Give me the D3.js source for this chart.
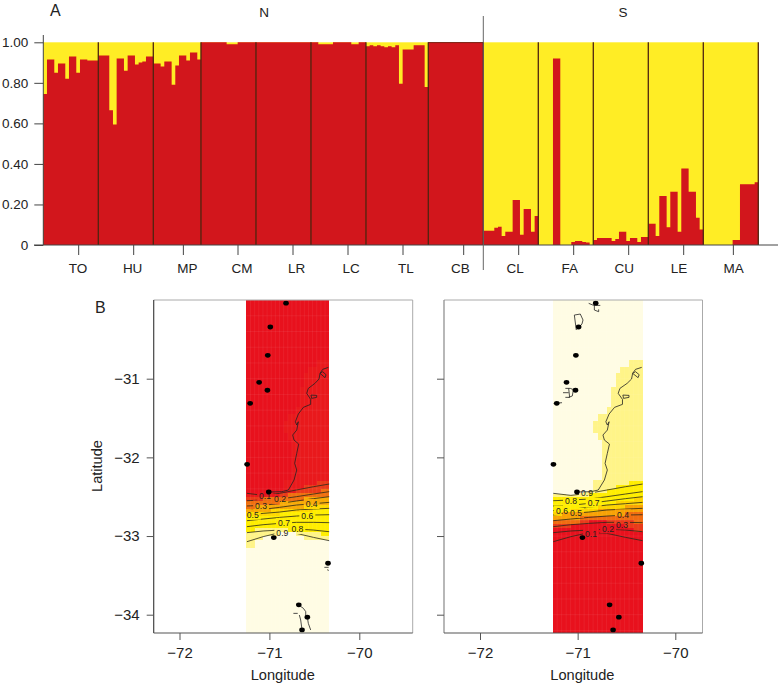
<!DOCTYPE html>
<html><head><meta charset="utf-8">
<script src="https://cdnjs.cloudflare.com/ajax/libs/d3/7.8.5/d3.min.js"></script>
<style>
html,body{margin:0;padding:0;background:#fff}
svg{display:block}
text{font-family:"Liberation Sans",Arial,sans-serif;fill:#222}
</style></head><body><svg id="c" width="778" height="683"></svg>
<script>
// ---- Panel A: red-cluster membership per individual, by population ----
const groups=["TO","HU","MP","CM","LR","LC","TL","CB","CL","FA","CU","LE","MA"];
const TO=[.745,.915,.915,.85,.895,.895,.82,.93,.93,.85,.915,.915,.91,.91,.91];
const HU=[.935,.935,.935,.665,.595,.92,.92,.86,.935,.935,.89,.90,.905,.93,.93];
const MP=[.895,.895,.88,.905,.905,.79,.885,.935,.935,.91,.95,.95,.915];
const CM=[1,1,1,1,1,1,1,.99,.99,.99,1,1,1,1,1];
const LR=[1,1,1,1,1,1,1,1,1,1,1,1,1,1,1];
const LC=[1,1,.99,.99,.99,.99,1,1,1,1,1,.99,.99,1,1];
const TL=[.98,.985,.98,.985,.98,.975,.98,.975,.985,.795,.965,.965,.965,.985,.985,.985,.78];
const CB=[1,1,1,1,1,1,1,1,1,1,1,1,1,1,1];
const CL=[.07,.07,.07,.085,.09,.045,.065,.065,.222,.222,.05,.178,.178,.065,.143];
const FA=[0,0,0,0,.92,.92,0,0,0,.015,.02,.02,.015,.012,0];
const CU=[.025,.035,.035,.035,.035,.02,.03,.065,.065,.02,.035,.035,.015,.04,.04];
const LE=[.105,.105,.045,.242,.242,.087,.263,.263,.065,.378,.378,.263,.263,.135,.077];
const MA=[0,0,0,0,0,0,0,0,.025,.025,.3,.3,.3,.3,.31];
const memberships=[TO,HU,MP,CM,LR,LC,TL,CB,CL,FA,CU,LE,MA];
const yTicks=[0,.2,.4,.6,.8,1];
const tickOffsets=[9.65,9.65,8.2,10.1,10.1,10.1,10.1,9.65,9.65,9.65,9.65,9.65,8.2];
const regions=[["N",264],["S",623]];

// ---- Panel B: sampling sites, map lines, contours, raster bands ----
const sitesLon=[-70.815,-70.99,-71.018,-71.114,-71.022,-71.214,-71.248,-71.007,-70.951,-70.348,-70.673,-70.578,-70.637];
const sitesLat=[-30.04,-30.343,-30.703,-31.046,-31.147,-31.313,-32.088,-32.44,-33.02,-33.346,-33.875,-34.032,-34.193];
const coast=[[-70.344,-30.856],[-70.407,-30.881],[-70.437,-30.932],[-70.448,-31.004],[-70.493,-31.059],[-70.567,-31.123],[-70.585,-31.186],[-70.541,-31.263],[-70.541,-31.326],[-70.622,-31.364],[-70.678,-31.449],[-70.711,-31.547],[-70.696,-31.589],[-70.678,-31.547],[-70.696,-31.653],[-70.741,-31.716],[-70.726,-31.78],[-70.674,-31.831],[-70.696,-31.949],[-70.719,-32.076],[-70.696,-32.161],[-70.726,-32.288],[-70.789,-32.415],[-70.862,-32.436],[-70.992,-32.44]];
const loopA=[[-70.437,-30.932],[-70.381,-30.987],[-70.37,-30.949],[-70.407,-30.911],[-70.437,-30.932]];
const loopB=[[-70.537,-31.208],[-70.474,-31.212],[-70.474,-31.237],[-70.53,-31.25],[-70.537,-31.208]];
const leftFragments=[
 [[-70.389,-33.398],[-70.341,-33.398]],
 [[-70.352,-33.423],[-70.344,-33.444]],
 [[-70.674,-33.877],[-70.622,-33.919],[-70.596,-33.961],[-70.596,-34.004],[-70.578,-34.033],[-70.567,-34.11],[-70.541,-34.194]],
 [[-70.733,-33.983],[-70.685,-33.983]],
 [[-70.667,-34.004],[-70.652,-34.067],[-70.637,-34.193]]];
const rightFragments=[
 [[-70.887,-30.042],[-70.836,-30.068],[-70.768,-30.068]],
 [[-70.829,-30.068],[-70.829,-30.127],[-70.785,-30.148],[-70.785,-30.119]],
 [[-71.014,-30.381],[-71.034,-30.191],[-70.973,-30.178],[-70.945,-30.254],[-70.956,-30.305],[-71.007,-30.373]],
 [[-71.126,-31.123],[-71.075,-31.123],[-71.034,-31.144]],
 [[-71.15,-31.178],[-71.092,-31.178]],
 [[-71.092,-31.123],[-71.082,-31.237],[-71.126,-31.237]],
 [[-71.044,-31.144],[-71.055,-31.22],[-71.092,-31.237]],
 [[-71.246,-31.314],[-71.16,-31.305]]];

const contourLons=[-71.25,-71.07,-70.885,-70.70,-70.51,-70.335];
const contourLevels=[.1,.2,.3,.4,.5,.6,.7,.8,.9];
const c1=[-32.457,-32.483,-32.457,-32.415,-32.373,-32.339];
const c2=[-32.551,-32.542,-32.530,-32.500,-32.466,-32.436];
const c3=[-32.618,-32.610,-32.585,-32.555,-32.525,-32.500];
const c4=[-32.678,-32.661,-32.635,-32.606,-32.589,-32.572];
const c5=[-32.733,-32.712,-32.695,-32.669,-32.657,-32.648];
const c6=[-32.805,-32.784,-32.763,-32.746,-32.733,-32.729];
const c7=[-32.881,-32.856,-32.839,-32.826,-32.826,-32.830];
const c8=[-32.957,-32.936,-32.924,-32.911,-32.924,-32.945];
const c9=[-33.072,-33.008,-32.957,-32.966,-33.017,-33.059];
const contourLats=[c1,c2,c3,c4,c5,c6,c7,c8,c9];
const leftLabels=[["0.1",-71.048,-32.487],["0.2",-70.881,-32.53],["0.3",-71.093,-32.61],["0.4",-70.53,-32.593],["0.5",-71.185,-32.729],["0.6",-70.578,-32.737],["0.7",-70.837,-32.833],["0.8",-70.689,-32.911],["0.9",-70.856,-32.96]];
const rightLabels=[["0.9",-70.904,-32.445],["0.8",-71.068,-32.555],["0.7",-70.836,-32.576],["0.6",-71.16,-32.674],["0.5",-71.017,-32.707],["0.4",-70.536,-32.725],["0.3",-70.546,-32.851],["0.2",-70.689,-32.902],["0.1",-70.863,-32.966]];

// raster class boundaries (latitude per raster column), north to south
const b1=[-32.466,-32.466,-32.466,-32.475,-32.475,-32.466,-32.449,-32.436,-32.415,-32.288,-32.288,-31.449,-31.356,-31.102,-30.932,-30.856,-30.856,-30.763,-30.763,-30.763];
const b2=[-32.521,-32.521,-32.521,-32.508,-32.5,-32.5,-32.491,-32.483,-32.474,-32.457,-32.449,-32.432,-32.415,-32.407,-32.373,-32.373,-32.364,-32.296,-32.288,-32.288];
const pockets=[[9,-31.534,-31.695],[10,-31.449,-31.78]];
const L3=[-32.54,-32.536,-32.519,-32.5,-32.485,-32.468,-32.451,-32.443,-32.43,-32.417];
const L4=[-32.629,-32.621,-32.604,-32.587,-32.57,-32.553,-32.536,-32.523,-32.51,-32.502];
const L5=[-32.714,-32.706,-32.689,-32.672,-32.659,-32.65,-32.629,-32.612,-32.595,-32.587];
const L6=[-32.765,-32.756,-32.744,-32.731,-32.722,-32.714,-32.697,-32.68,-32.663,-32.65];
const L7=[-32.934,-32.918,-32.909,-32.909,-32.918,-32.926,-32.926,-32.934,-32.951,-32.977];
const L8=[-33.138,-33.074,-33.011,-32.977,-32.968,-32.968,-32.99,-33.045,-33.053,-33.053];
const R3=[-32.693,-32.68,-32.663,-32.646,-32.629,-32.608,-32.587,-32.566,-32.544,-32.523];
const R4=[-32.735,-32.722,-32.714,-32.701,-32.684,-32.672,-32.65,-32.629,-32.608,-32.587];
const R5=[-32.82,-32.807,-32.79,-32.773,-32.756,-32.748,-32.739,-32.731,-32.722,-32.714];
const R6=[-32.875,-32.858,-32.841,-32.82,-32.799,-32.79,-32.799,-32.807,-32.82,-32.833];
const R7=[-32.918,-32.905,-32.875,-32.841,-32.824,-32.82,-32.841,-32.875,-32.909,-32.947];
const leftBands=[b1,b2,L3,L4,L5,L6,L7,L8];
const rightBands=[b1,b2,R3,R4,R5,R6,R7];
const leftColors=["#e8111d","#e9191c","#ea3a19","#f0700f","#f8ab05","#ffd800","#ffee00","#fff488","#fffce4"];
const rightColors=["#fffce4","#fff488","#ffee00","#fdd400","#f8a205","#f06c10","#e93a1a","#e8111d"];

const svg=d3.select("#c");
const RED="#d2161b",YEL="#ffed25",DARK="#4e2410",AX="#444";

// ---------- Panel A ----------
const defs=svg.append("defs");
defs.append("filter").attr("id","soft").append("feGaussianBlur").attr("stdDeviation",.35);
const starts=[];let n=0;memberships.forEach(m=>{starts.push(n);n+=m.length});
const xA=d3.scaleLinear().domain([0,n]).range([43.3,758.3]);
const yA=d3.scaleLinear().domain([0,1]).range([245,42.3]);
const labelX=d3.scalePoint().domain(groups).range([78,733.6]);
const A=svg.append("g");
const flat=memberships.flat();
const stepData=flat.concat([flat[flat.length-1]]);
A.append("rect").attr("x",xA(0)).attr("width",xA(n)-xA(0)).attr("y",yA(1)).attr("height",yA(0)-yA(1)).attr("fill",YEL);
const redArea=d3.area().curve(d3.curveStepAfter).x((d,i)=>xA(i)).y0(yA(0)).y1(d=>yA(d));
A.append("path").attr("d",redArea(stepData)).attr("fill",RED).attr("filter","url(#soft)");
// dark top of CB
A.append("line").attr("x1",xA(starts[7])).attr("x2",xA(starts[8])).attr("y1",yA(1)+.3).attr("y2",yA(1)+.3).attr("stroke","#7a2418").attr("stroke-width",1);
// group separators
A.append("g").selectAll("line").data(starts.slice(1).concat([n])).join("line")
  .attr("x1",d=>xA(d)).attr("x2",d=>xA(d)).attr("y1",yA(1)).attr("y2",yA(0))
  .attr("stroke",DARK).attr("stroke-width",1.3);
const yAxisA=d3.axisLeft(yA).tickValues(yTicks).tickSize(9).tickPadding(6).tickFormat(d=>d===0?"0":d.toFixed(2));
const gy=A.append("g").attr("transform","translate(43.3,0)").call(yAxisA);
gy.select(".domain").remove();
gy.selectAll("line").attr("stroke",AX).attr("stroke-width",1);
gy.selectAll("text").attr("font-size",13.5).attr("fill","#222").style("font-family",'"Liberation Sans",Arial,sans-serif');
A.append("line").attr("x1",43.3).attr("x2",43.3).attr("y1",35).attr("y2",245).attr("stroke",AX).attr("stroke-width",1);
A.append("line").attr("x1",34).attr("x2",778).attr("y1",245).attr("y2",245).attr("stroke",AX).attr("stroke-width",1);
A.append("g").selectAll("line").data(groups).join("line")
  .attr("x1",(g,i)=>xA(starts[i]+tickOffsets[i])).attr("x2",(g,i)=>xA(starts[i]+tickOffsets[i]))
  .attr("y1",245).attr("y2",255).attr("stroke",AX).attr("stroke-width",1);
A.append("g").selectAll("text").data(groups).join("text")
  .attr("x",g=>labelX(g)).attr("y",273).attr("text-anchor","middle").attr("font-size",13.5).text(g=>g);
// N / S divider
A.append("line").attr("x1",xA(starts[8])).attr("x2",xA(starts[8])).attr("y1",16).attr("y2",270).attr("stroke","#666").attr("stroke-width",1);
A.append("g").selectAll("text").data(regions).join("text").attr("x",d=>d[1]).attr("y",17).attr("text-anchor","middle").attr("font-size",13.5).text(d=>d[0]);
svg.append("text").attr("x",50).attr("y",16).attr("font-size",16).text("A");
svg.append("text").attr("x",95).attr("y",313).attr("font-size",16).text("B");

// ---------- Panel B ----------
const yB=d3.scaleLinear().domain([-31,-34]).range([378.7,614.7]);
const TOP=300,BOT=633;
function panel(opts){
  const x=d3.scaleLinear().domain([-72,-70]).range(opts.xr);
  const L=opts.box[0],R=opts.box[1];
  const g=svg.append("g");
  const id=opts.id;
  const cp=g.append("clipPath").attr("id","clip"+id);
  cp.append("rect").attr("x",L).attr("y",TOP).attr("width",R-L).attr("height",BOT-TOP);
  // raster
  const nCols=20, lon0=-71.256, lon1=-70.335, dLon=(lon1-lon0)/nCols, dLat=.05;
  const snap=v=>Math.round(v/dLat)*dLat;
  const cols=d3.range(nCols);
  const ras=g.append("g").attr("clip-path",`url(#clip${id})`);
  const cells=[];
  cols.forEach(i=>{
    const edges=[-29.9].concat(opts.bands.map(b=>{
      const v=b[Math.floor(i*b.length/nCols)];
      return (b===b1)?v:snap(v);
    })).concat([-34.4]);
    for(let k=0;k<opts.colors.length;k++){
      cells.push({i,top:edges[k],bot:edges[k+1],c:opts.colors[k]});
    }
  });
  ras.selectAll("rect.c").data(cells).join("rect").attr("class","c")
    .attr("x",d=>x(lon0+d.i*dLon)).attr("width",x(dLon)-x(0)+.3)
    .attr("y",d=>yB(d.top)).attr("height",d=>Math.max(0,yB(d.bot)-yB(d.top)))
    .attr("fill",d=>d.c).attr("shape-rendering","crispEdges");
  ras.selectAll("rect.p").data(pockets).join("rect").attr("class","p")
    .attr("x",d=>x(lon0+d[0]*dLon)).attr("width",x(dLon)-x(0)+.3)
    .attr("y",d=>yB(d[1])).attr("height",d=>yB(d[2])-yB(d[1]))
    .attr("fill",opts.colors[1]).attr("shape-rendering","crispEdges");
  // faint cell lines
  ras.append("g").selectAll("line").data(d3.range(1,nCols)).join("line")
    .attr("x1",i=>x(lon0+i*dLon)).attr("x2",i=>x(lon0+i*dLon)).attr("y1",TOP).attr("y2",BOT)
    .attr("stroke","#fff").attr("stroke-opacity",.09).attr("stroke-width",.7);
  ras.append("g").selectAll("line").data(d3.range(-34.2,-30,.2)).join("line")
    .attr("y1",d=>yB(d)).attr("y2",d=>yB(d)).attr("x1",x(lon0)).attr("x2",x(lon1))
    .attr("stroke","#fff").attr("stroke-opacity",.09).attr("stroke-width",.7);

  const line=d3.line().x(d=>x(d[0])).y(d=>yB(d[1]));
  // map lines
  const map=g.append("g").attr("fill","none").attr("stroke","#222").attr("stroke-width",.8).attr("stroke-linejoin","round");
  [coast,loopA,loopB].concat(opts.fragments).forEach(p=>map.append("path").attr("d",line(p)));
  // contours with a gap under each label
  const mask=g.append("mask").attr("id","mask"+id).attr("maskUnits","userSpaceOnUse")
    .attr("x",0).attr("y",0).attr("width",778).attr("height",683);
  mask.append("rect").attr("width",778).attr("height",683).attr("fill","#fff");
  mask.selectAll("rect.m").data(opts.labels).join("rect").attr("class","m")
    .attr("x",d=>x(d[1])-8).attr("y",d=>yB(d[2])-5).attr("width",16).attr("height",10).attr("fill","#000");
  const cg=g.append("g").attr("mask",`url(#mask${id})`).attr("fill","none").attr("stroke","#2a2a1a").attr("stroke-width",.8);
  contourLats.forEach(lats=>{
    cg.append("path").attr("d",line(lats.map((la,i)=>[contourLons[i],la])));
  });
  g.append("g").selectAll("text").data(opts.labels).join("text")
    .attr("x",d=>x(d[1])).attr("y",d=>yB(d[2])+3.2).attr("text-anchor","middle").attr("font-size",8.6).attr("fill","#333").text(d=>d[0]);
  // sites
  g.append("g").selectAll("ellipse").data(sitesLon).join("ellipse")
    .attr("cx",d=>x(d)).attr("cy",(d,i)=>yB(sitesLat[i])).attr("rx",2.8).attr("ry",2.4).attr("fill","#000");
  // frame
  g.append("line").attr("x1",L).attr("x2",R).attr("y1",TOP).attr("y2",TOP).attr("stroke","#aaa").attr("stroke-width",1);
  g.append("line").attr("x1",R).attr("x2",R).attr("y1",TOP).attr("y2",BOT).attr("stroke","#aaa").attr("stroke-width",1);
  g.append("line").attr("x1",L).attr("x2",L).attr("y1",TOP).attr("y2",BOT).attr("stroke",opts.frame).attr("stroke-width",1.2);
  g.append("line").attr("x1",L).attr("x2",R).attr("y1",BOT).attr("y2",BOT).attr("stroke","#555").attr("stroke-width",1.2);
  // axes
  const ax=g.append("g").attr("transform",`translate(0,${BOT})`).call(d3.axisBottom(x).tickValues([-72,-71,-70]).tickSize(7).tickPadding(7).tickFormat(d3.format("d")));
  ax.select(".domain").remove();
  ax.selectAll("line").attr("stroke","#555");
  ax.selectAll("text").attr("font-size",15).attr("fill","#222").style("font-family",'"Liberation Sans",Arial,sans-serif');
  const ay=g.append("g").attr("transform",`translate(${L},0)`).call(d3.axisLeft(yB).tickValues([-31,-32,-33,-34]).tickSize(7).tickPadding(7).tickFormat(opts.yLabels?d3.format("d"):""));
  ay.select(".domain").remove();
  ay.selectAll("line").attr("stroke","#555");
  ay.selectAll("text").attr("font-size",15).attr("fill","#222").style("font-family",'"Liberation Sans",Arial,sans-serif');
  g.append("text").attr("x",x(-71)+opts.titleDx).attr("y",680).attr("text-anchor","middle").attr("font-size",14.6).text("Longitude");
}
panel({id:"L",xr:[179.5,359.3],box:[153.7,412.7],bands:leftBands,colors:leftColors,labels:leftLabels,fragments:leftFragments,yLabels:true,frame:"#444",titleDx:13.4});
panel({id:"R",xr:[480,675.3],box:[444,702.5],bands:rightBands,colors:rightColors,labels:rightLabels,fragments:rightFragments,yLabels:false,frame:"#888",titleDx:4.7});
svg.append("text").attr("transform","translate(102,466) rotate(-90)").attr("text-anchor","middle").attr("font-size",14.6).text("Latitude");
</script></body></html>
